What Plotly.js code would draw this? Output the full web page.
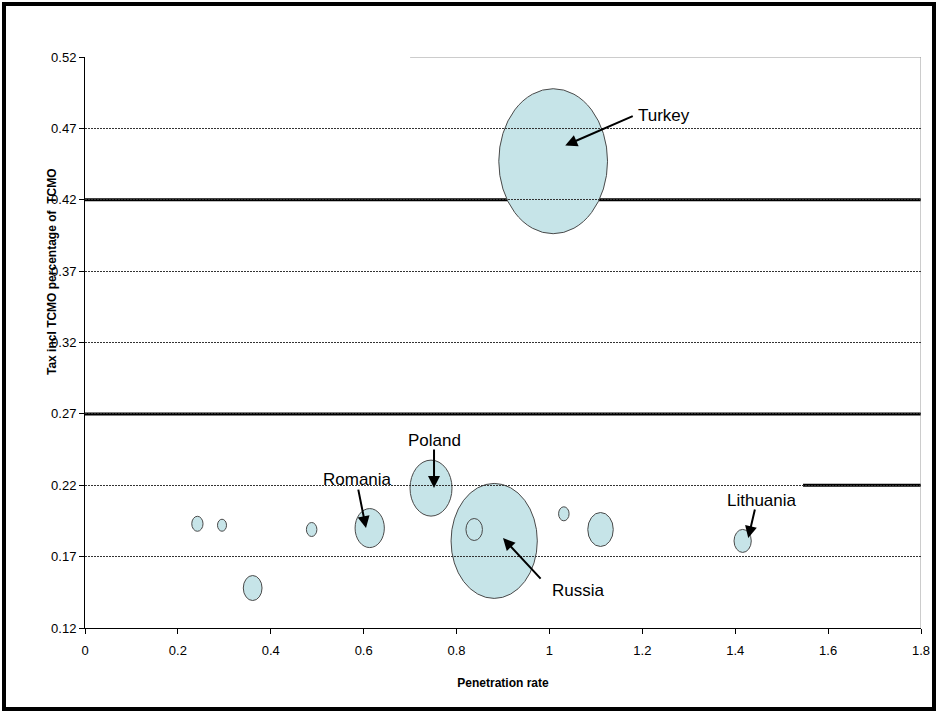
<!DOCTYPE html>
<html>
<head>
<meta charset="utf-8">
<script src="https://cdn.plot.ly/plotly-3.0.1.min.js"></script>
<style>
  html, body { margin: 0; padding: 0; background: #fff; }
  #chart { width: 938px; height: 713px; }
</style>
</head>
<body>
<div id="chart"></div>
<script>
// ---------- data ----------
const countries = ["Turkey", "Russia", "Poland", "Romania", "Lithuania", "", "", "", "", "", "", ""];
const penetration = [1.008, 0.881, 0.745, 0.613, 1.416, 0.242, 0.295, 0.488, 0.361, 0.838, 1.031, 1.110];
const taxShare    = [0.447, 0.181, 0.218, 0.190, 0.181, 0.193, 0.192, 0.189, 0.148, 0.189, 0.200, 0.189];
const bubbleSize  = [145, 115, 56, 39, 23, 15, 12, 14, 25, 22, 14, 34];

const xTickVals = [0, 0.2, 0.4, 0.6, 0.8, 1, 1.2, 1.4, 1.6, 1.8];
const yTickVals = [0.12, 0.17, 0.22, 0.27, 0.32, 0.37, 0.42, 0.47, 0.52];
const yTickText = ["0.12", "0.17", "0.22", "0.27", "0.32", "0.37", "0.42", "0.47", "0.52"];

// labelled bubbles: arrow tip (data), tail offset (px), text position (data)
const labelNames = ["Turkey", "Poland", "Romania", "Russia", "Lithuania"];
const labelTipX  = [1.034, 0.7515, 0.605, 0.900, 1.428];
const labelTipY  = [0.458, 0.218, 0.190, 0.183, 0.183];
const labelTextX = [1.1865, 0.7515, 0.587, 1.0616, 1.458];
const labelTextY = [0.4787, 0.2517, 0.2237, 0.1466, 0.209];

// ---------- layout helpers ----------
const W = 938, H = 713;
const M = {l: 85, r: 17, t: 57, b: 85};
const plotW = W - M.l - M.r, plotH = H - M.t - M.b;
const xRange = [0, 1.8], yRange = [0.12, 0.52];
const xPerPx = (xRange[1] - xRange[0]) / plotW;
const yPerPx = (yRange[1] - yRange[0]) / plotH;
const aspect = 0.75;           // bubble width / height (stretched picture)
const font = "Arial, 'Liberation Sans', sans-serif";

const shapes = [];
// emphasised grid lines (rendering artefacts in reference)
[0.42, 0.27].forEach(v => shapes.push({type: "line", xref: "x", yref: "y", x0: 0, x1: 1.8, y0: v, y1: v,
  line: {color: "#000", width: 3}, layer: "below"}));
shapes.push({type: "line", xref: "x", yref: "y", x0: 1.546, x1: 1.8, y0: 0.22, y1: 0.22,
  line: {color: "#000", width: 3}, layer: "below"});
shapes.push({type: "line", xref: "x", yref: "y", x0: 0.70, x1: 1.8, y0: 0.52, y1: 0.52,
  line: {color: "#999", width: 1}, layer: "below"});
shapes.push({type: "line", xref: "x", yref: "y", x0: 1.8, x1: 1.8, y0: 0.12, y1: 0.52,
  line: {color: "#999", width: 1}, layer: "below"});

// bubbles as ellipses in data coordinates
for (let i = 0; i < penetration.length; i++) {
  const hy = bubbleSize[i] * yPerPx / 2;
  const hx = bubbleSize[i] * aspect * xPerPx / 2;
  shapes.push({type: "circle", xref: "x", yref: "y",
    x0: penetration[i] - hx, x1: penetration[i] + hx,
    y0: taxShare[i] - hy, y1: taxShare[i] + hy,
    fillcolor: "#c6e4e8", line: {color: "#4a4a4a", width: 1}, layer: "below"});
}

// outer frame
shapes.push({type: "rect", xref: "paper", yref: "paper",
  x0: (4 - M.l) / plotW, x1: (934 - M.l) / plotW,
  y0: (H - M.b - 709) / plotH, y1: (H - M.b - 4) / plotH,
  line: {color: "#000", width: 4}, fillcolor: "rgba(0,0,0,0)", layer: "above"});

const annotations = [];
const tailOffsets = [[69, -30], [0, -40], [-8, -40], [39, 42], [7, -30]];
for (let i = 0; i < labelNames.length; i++) {
  annotations.push({x: labelTipX[i], y: labelTipY[i], xref: "x", yref: "y", text: "",
    showarrow: true, ax: tailOffsets[i][0], ay: tailOffsets[i][1],
    arrowhead: 2, arrowsize: 1.2, arrowwidth: 2, arrowcolor: "#000", standoff: 0, startstandoff: 0});
  annotations.push({x: labelTextX[i], y: labelTextY[i], xref: "x", yref: "y", text: labelNames[i],
    showarrow: false, xanchor: i === 0 ? "left" : "center", yanchor: "middle",
    font: {family: font, size: 17, color: "#000"}});
}
// y-axis title
annotations.push({xref: "paper", yref: "paper",
  x: (52 - M.l) / plotW, y: (H - M.b - 272) / plotH,
  text: "<b>Tax incl TCMO percentage of  TCMO</b>", textangle: -90, showarrow: false,
  xanchor: "center", yanchor: "middle", font: {family: font, size: 12, color: "#000"}});

const trace = {
  type: "scatter", mode: "markers",
  x: penetration, y: taxShare, text: countries,
  marker: {size: 1, opacity: 0}, hoverinfo: "x+y+text", showlegend: false
};

const layout = {
  width: W, height: H,
  margin: {l: M.l, r: M.r, t: M.t, b: M.b, pad: 0},
  paper_bgcolor: "#fff", plot_bgcolor: "#fff",
  showlegend: false,
  xaxis: {
    range: xRange, tickvals: xTickVals, ticks: "outside", ticklen: 5, tickcolor: "#000",
    showline: true, linecolor: "#000", linewidth: 1, showgrid: false, zeroline: false,
    ticklabelstandoff: 5,
    tickfont: {family: font, size: 13, color: "#000"},
    title: {text: "<b>Penetration rate</b>", font: {family: font, size: 12, color: "#000"}, standoff: 22}
  },
  yaxis: {
    range: yRange, tickvals: yTickVals, ticktext: yTickText, ticks: "outside", ticklen: 5, tickcolor: "#000",
    showline: true, linecolor: "#000", linewidth: 1, zeroline: false,
    showgrid: true, gridcolor: "#333", gridwidth: 1, griddash: "2px,1px",
    tickfont: {family: font, size: 13, color: "#000"}
  },
  shapes: shapes,
  annotations: annotations
};

Plotly.newPlot("chart", [trace], layout, {displayModeBar: false, staticPlot: true});
</script>
</body>
</html>
